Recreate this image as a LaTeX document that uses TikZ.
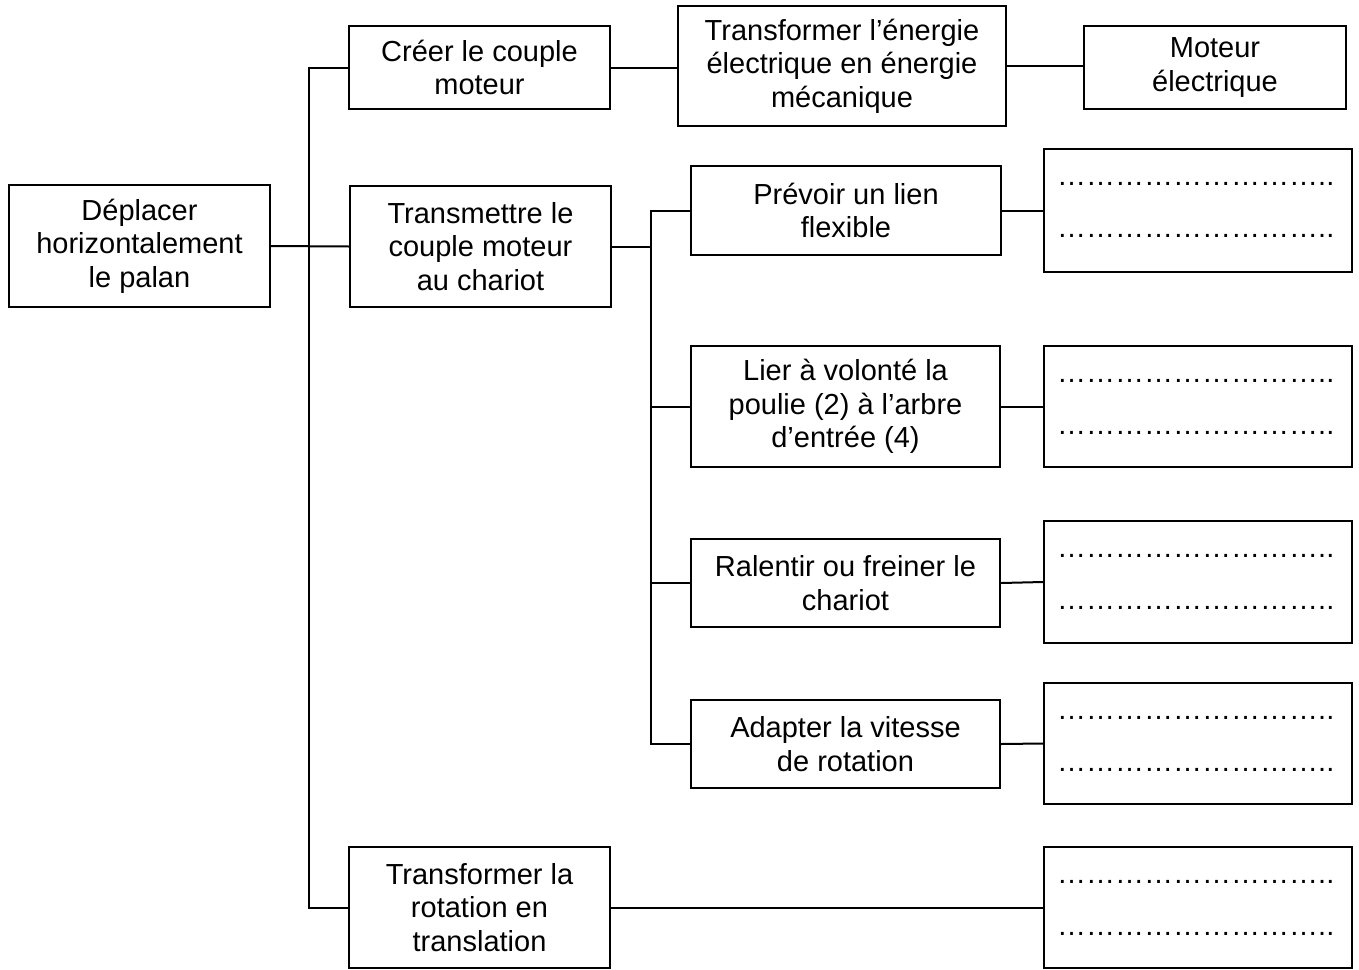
\documentclass[tikz,border=0pt]{standalone}
\usepackage{fontspec}
\setmainfont{Liberation Sans}
\begin{document}
\begin{tikzpicture}[x=1pt,y=-1pt,
  box/.style={draw,line width=2pt,rectangle,inner sep=0pt,align=center,
    font=\fontsize{29}{33.5}\selectfont},
  link/.style={line width=2pt},
  dots/.style={anchor=base west,inner sep=0pt,font=\fontsize{29}{33.5}\selectfont}]
\useasboundingbox (0,0) rectangle (1359,969);
% level 1
\node[box,minimum width=261pt,minimum height=122pt] (A) at (139.5,246) {Déplacer\\horizontalement\\le palan};
% level 2
\node[box,minimum width=261pt,minimum height=83pt] (B) at (479.5,67.5) {Créer le couple\\moteur};
\node[box,minimum width=261pt,minimum height=121pt] (C) at (480.5,246.5) {Transmettre le\\couple moteur\\au chariot};
\node[box,minimum width=261pt,minimum height=121pt] (D) at (479.5,907.5) {Transformer la\\rotation en\\translation};
% level 3
\node[box,minimum width=328pt,minimum height=120pt] (E) at (842,66) {Transformer l’énergie\\électrique en énergie\\mécanique};
\node[box,minimum width=310pt,minimum height=89pt] (G) at (846,210.5) {Prévoir un lien\\flexible};
\node[box,minimum width=309pt,minimum height=121pt] (H) at (845.5,406.5) {Lier à volonté la\\poulie (2) à l’arbre\\d’entrée (4)};
\node[box,minimum width=309pt,minimum height=88pt] (I) at (845.5,583) {Ralentir ou freiner le\\chariot};
\node[box,minimum width=309pt,minimum height=88pt] (J) at (845.5,744) {Adapter la vitesse\\de rotation};
% level 4
\node[box,minimum width=262pt,minimum height=83pt] (F) at (1215,67.5) {Moteur\\électrique};
\node[box,minimum width=308pt,minimum height=123pt] (P1) at (1198,210.5) {};
\node[box,minimum width=308pt,minimum height=121pt] (P2) at (1198,406.5) {};
\node[box,minimum width=308pt,minimum height=122pt] (P3) at (1198,582) {};
\node[box,minimum width=308pt,minimum height=121pt] (P4) at (1198,743.5) {};
\node[box,minimum width=308pt,minimum height=121pt] (P5) at (1198,907.5) {};
% dotted lines (text)
\foreach \p in {P1,P2,P3,P4,P5}{
  \node[dots] (\p a) at ([xshift=14pt,yshift=-37.5pt]\p.north west) {………………………..};
  \node[dots] (\p b) at ([xshift=14pt,yshift=-89.5pt]\p.north west) {………………………..};
}
% buses
\coordinate (bus1) at (309,0);
\coordinate (bus2) at (651,0);
\draw[link] (A.east) -- (C.west);
\draw[link] (B.west) -- (B.west -| bus1) -- (D.west -| bus1) -- (D.west);
\draw[link] (C.east) -- (C.east -| bus2);
\draw[link] (G.west) -- (G.west -| bus2) -- (J.west -| bus2) -- (J.west);
\draw[link] (H.west -| bus2) -- (H.west);
\draw[link] (I.west -| bus2) -- (I.west);
% right links
\draw[link] (B.east) -- (B.east -| E.west);
\draw[link] (E.east) -- (E.east -| F.west);
\draw[link] (G.east) -- (P1.west);
\draw[link] (H.east) -- (P2.west);
\draw[link] (I.east) -- (P3.west);
\draw[link] (J.east) -- (P4.west);
\draw[link] (D.east) -- (P5.west);
\end{tikzpicture}
\end{document}
